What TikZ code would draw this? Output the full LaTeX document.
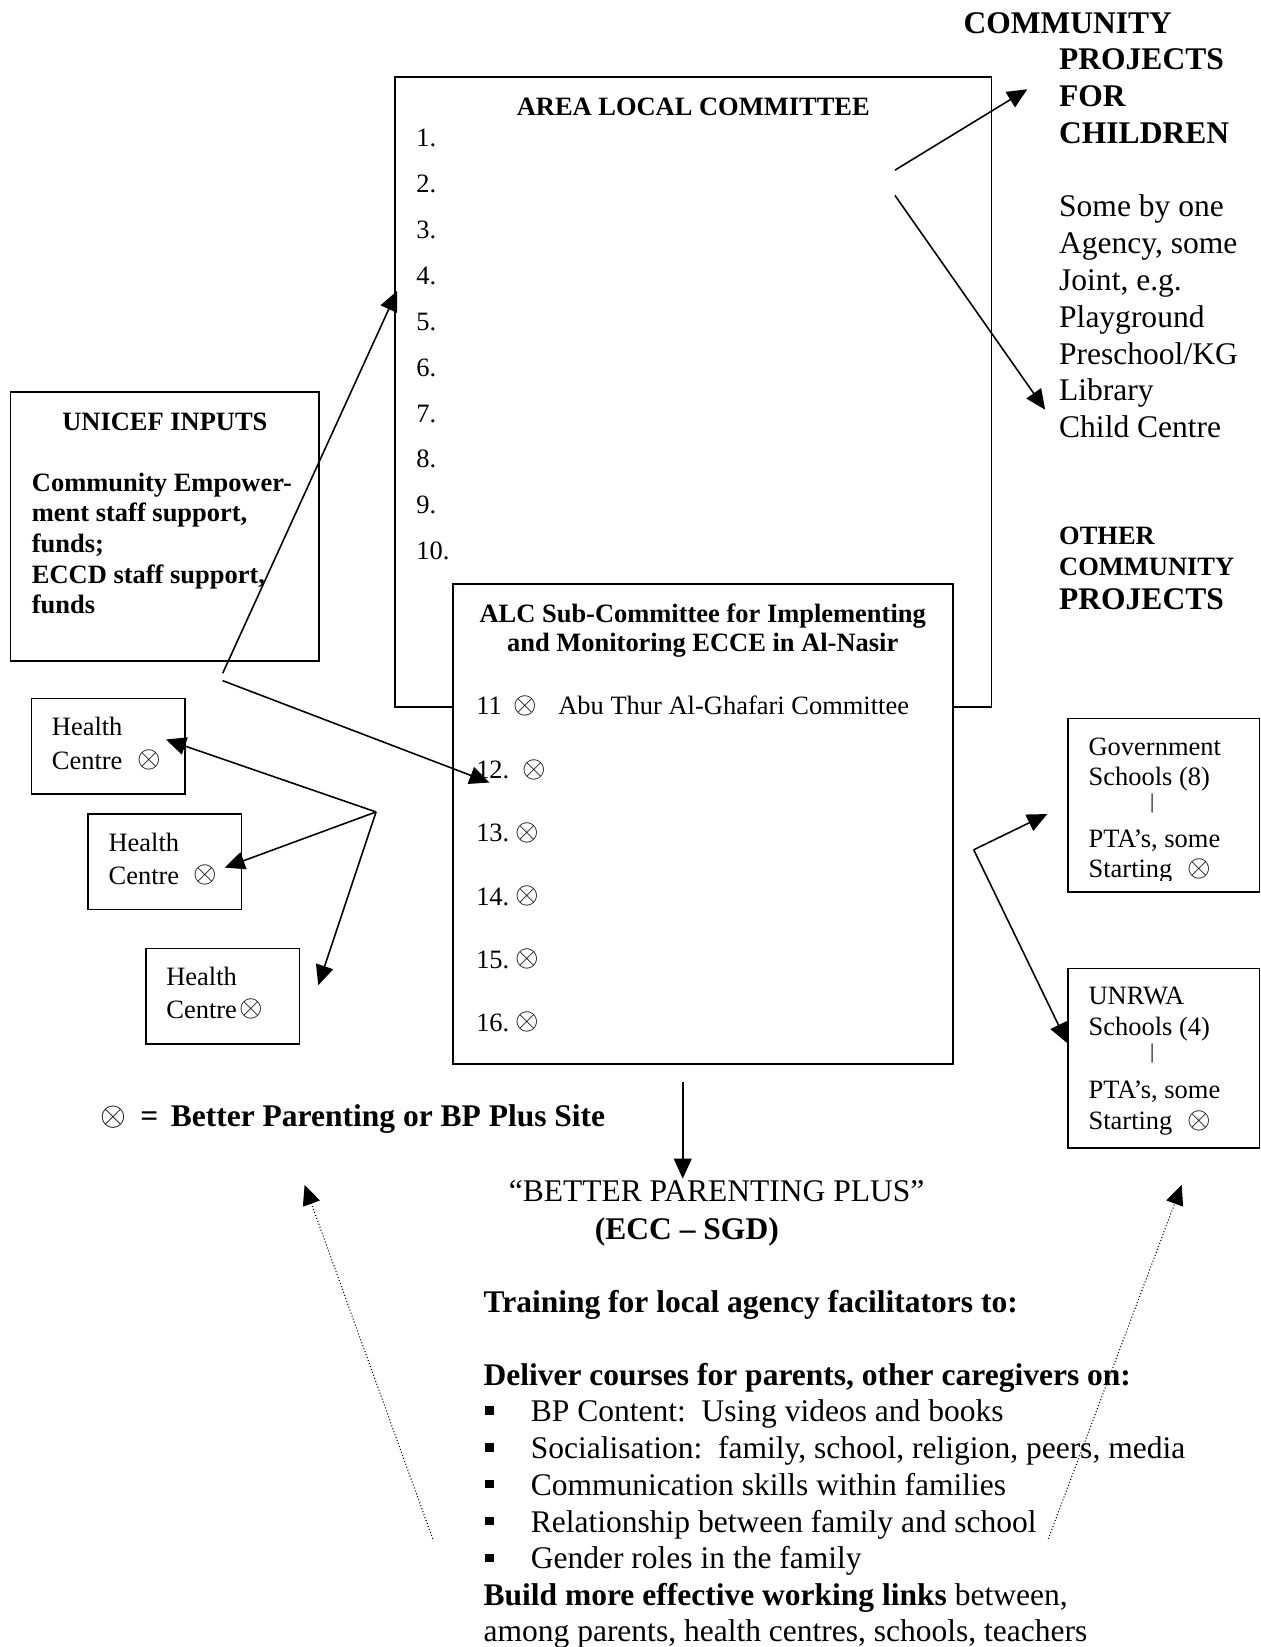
\documentclass[tikz,border=0pt]{standalone}
\usepackage{fontspec}
\usepackage{graphicx}
\setmainfont{Liberation Serif}
\usetikzlibrary{arrows.meta}
\newcommand\fbig{\fontsize{15}{17.5}\selectfont}
\newcommand\fsm{\fontsize{12.6}{15}\selectfont}
\newcommand\ox{\raisebox{0.06em}{\scalebox{1.2}{$\otimes$}}}
\newcommand\oxl{\raisebox{0.05em}{\scalebox{1.1}{$\otimes$}}}
\begin{document}
\begin{tikzpicture}[x=0.5pt,y=-0.5pt,
  box/.style={draw,line width=0.8pt},
  tl/.style={anchor=mid west,inner sep=0pt,font=\fsm,yshift=-2.5pt},
  tc/.style={anchor=mid,inner sep=0pt,font=\fsm,yshift=-2.5pt},
  bl/.style={anchor=mid west,inner sep=0pt,font=\fbig,yshift=-2.5pt},
  bar/.style={anchor=center,inner sep=0pt,font=\fontsize{10}{12}\selectfont},
  arr/.style={-{Triangle[length=9.5pt,width=8.5pt]},line width=0.75pt},
  dotarr/.style={-{Triangle[length=9.5pt,width=8.5pt]},line width=0.5pt,densely dotted}]
\useasboundingbox (0,0) rectangle (1200,1568);

% ---------- top right: community projects ----------
\node[bl,font=\fbig\bfseries] (cp0) at (917,22) {COMMUNITY};
\node[bl,font=\fbig\bfseries] (cp1) at (1008,57) {PROJECTS};
\node[bl,font=\fbig\bfseries] (cp2) at (1008,92) {FOR};
\node[bl,font=\fbig\bfseries] (cp3) at (1008,127) {CHILDREN};
\foreach \t [count=\i] in {Some by one,{Agency, some},{Joint, e.g.},Playground,Preschool/KG,Library,Child Centre}
  \node[bl] (ex\i) at (1008,{197+35*(\i-1)}) {\t};
\node[tl,font=\fsm\bfseries] (oc1) at (1008,509) {OTHER};
\node[tl,font=\fsm\bfseries] (oc2) at (1008,538) {COMMUNITY};
\node[bl,font=\fbig\bfseries] (oc3) at (1008,571) {PROJECTS};

% ---------- area local committee ----------
\draw[box] (376,73) rectangle (944,673);
\node[tc,font=\fsm\bfseries] (alct) at (660,100) {AREA LOCAL COMMITTEE};
\foreach \i in {1,...,10}
  \node[tl] (n\i) at (396,{130+43.7*(\i-1)}) {\i.};

% ---------- sub-committee ----------
\draw[box,fill=white] (431,556) rectangle (907,1013);
\node[tc,font=\fsm\bfseries] (sct1) at (669,583) {ALC Sub-Committee for Implementing};
\node[tc,font=\fsm\bfseries] (sct2) at (669,611) {and Monitoring ECCE in Al-Nasir};
\node[tl] (s11) at (453,671) {11\hspace{0.45em}\ox\hspace{0.8em}Abu Thur Al-Ghafari Committee};
\node[tl] (s12) at (453,732) {12.\hspace{0.5em}\ox};
\foreach \i in {13,14,15,16}
  \node[tl] (s\i) at (453,{792+60*(\i-13)}) {\i.\hspace{0.25em}\ox};

% ---------- UNICEF inputs ----------
\draw[box] (10,373) rectangle (304,629);
\node[tc,font=\fsm\bfseries] (unt) at (157,400) {UNICEF INPUTS};
\foreach \t [count=\i] in {Community Empower-,{ment staff support,},funds;,{ECCD staff support,},funds}
  \node[tl,font=\fsm\bfseries] (un\i) at (30,{458+29.2*(\i-1)}) {\t};

% ---------- health centres ----------
\draw[box] (30,665) rectangle (176,756);
\node[tl] (h1a) at (49,691) {Health};
\node[tl] (h1b) at (49,723) {Centre\hspace{0.55em}\ox};
\draw[box] (84,775) rectangle (230,866);
\node[tl] (h2a) at (103,801) {Health};
\node[tl] (h2b) at (103,832) {Centre\hspace{0.55em}\ox};
\draw[box] (139,903) rectangle (285,994);
\node[tl] (h3a) at (158,929) {Health};
\node[tl] (h3b) at (158,960) {Centre\hspace{0.1em}\ox};

% ---------- schools ----------
\draw[box] (1017,684) rectangle (1199,849);
\node[tl] (g1) at (1036,710) {Government};
\node[tl] (g2) at (1036,738) {Schools (8)};
\node[bar] (g3) at (1097,765) {|};
\node[tl] (g4) at (1036,797) {PTA’s, some};
\begin{scope}
\clip (1017,684) rectangle (1199,838);
\node[tl] (g5) at (1036,826) {Starting\hspace{0.55em}\ox};
\end{scope}
\draw[box] (1017,922) rectangle (1199,1093);
\node[tl] (u1) at (1036,947) {UNRWA};
\node[tl] (u2) at (1036,976) {Schools (4)};
\node[bar] (u3) at (1097,1003) {|};
\node[tl] (u4) at (1036,1036) {PTA’s, some};
\node[tl] (u5) at (1036,1066) {Starting\hspace{0.55em}\ox};

% ---------- legend ----------
\node[bl,font=\fbig\bfseries] (leg) at (95,1063) {\oxl\hspace{0.45em}=\hspace{0.4em}Better Parenting or BP Plus Site};

% ---------- better parenting plus ----------
\node[bl] (bpp) at (484,1134) {“BETTER PARENTING PLUS”};
\node[bl,font=\fbig\bfseries] (ecc) at (566,1170) {(ECC – SGD)};
\node[bl,font=\fbig\bfseries] (tr) at (460,1240) {Training for local agency facilitators to:};
\node[bl,font=\fbig\bfseries] (dl) at (460,1309) {Deliver courses for parents, other caregivers on:};
\foreach \t [count=\i] in {BP Content:\ \ Using videos and books,{Socialisation:\ \ family, school, religion, peers, media},Communication skills within families,Relationship between family and school,Gender roles in the family}{
  \node[bl] (bt\i) at (505,{1344+35*(\i-1)}) {\t};
  \fill (462,{1339+35*(\i-1)}) rectangle (470,{1347+35*(\i-1)});
}
\node[bl] (bl1) at (460,1519) {\textbf{Build more effective working links} between,};
\node[bl] (bl2) at (460,1553) {among parents, health centres, schools, teachers};

% ---------- connectors ----------
\coordinate (a1s) at (852,162); \coordinate (a1e) at (978,85);
\coordinate (a2s) at (852,186); \coordinate (a2e) at (995,390);
\coordinate (a3s) at (212,641); \coordinate (a3e) at (378,277);
\coordinate (a4s) at (212,648); \coordinate (a4e) at (466,745);
\coordinate (hc) at (358,773);
\coordinate (h1t) at (158,704); \coordinate (h2t) at (214,826); \coordinate (h3t) at (303,938);
\coordinate (rc) at (927,809);
\coordinate (gt) at (997,775); \coordinate (ut) at (1016,993);
\coordinate (ds) at (650,1030); \coordinate (de) at (650,1122);
\coordinate (dls) at (412,1465); \coordinate (dle) at (290,1128);
\coordinate (drs) at (998,1465); \coordinate (dre) at (1125,1128);

\draw[arr] (a1s) -- (a1e);
\draw[arr] (a2s) -- (a2e);
\draw[arr] (a3s) -- (a3e);
\draw[arr] (a4s) -- (a4e);
\draw[arr] (hc) -- (h1t);
\draw[arr] (hc) -- (h2t);
\draw[arr] (hc) -- (h3t);
\draw[arr] (rc) -- (gt);
\draw[arr] (rc) -- (ut);
\draw[arr] (ds) -- (de);
\draw[dotarr] (dls) -- (dle);
\draw[dotarr] (drs) -- (dre);
\end{tikzpicture}
\end{document}
